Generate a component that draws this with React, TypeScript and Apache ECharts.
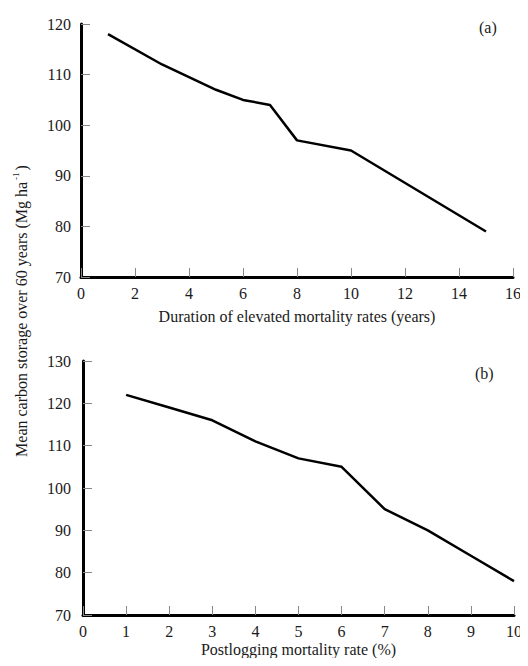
import React, { useEffect, useRef } from "react";
import * as echarts from "echarts";

// Panel (a): duration of elevated mortality rates (years) vs mean carbon storage
const durationYears = [1, 3, 5, 6, 7, 8, 10, 15];
const storageByDuration = [118, 112, 107, 105, 104, 97, 95, 79];

// Panel (b): postlogging mortality rate (%) vs mean carbon storage
const mortalityRate = [1, 2, 3, 4, 5, 6, 7, 8, 9, 10];
const storageByRate = [122, 119, 116, 111, 107, 105, 95, 90, 84, 78];

const FONT = "Liberation Serif";
const TEXT = "#1a1a1a";

export default function App() {
  const ref = useRef<HTMLDivElement>(null);

  useEffect(() => {
    if (!ref.current) return;
    const chart = echarts.init(ref.current, undefined, { renderer: "svg" });

    const axisLine = { lineStyle: { color: "#000", width: 3 } };
    const axisTick = { inside: true, length: 9, lineStyle: { color: "#888", width: 1 } };
    const axisLabel = { color: TEXT, fontFamily: FONT, fontSize: 16 };
    const nameTextStyle = { color: TEXT, fontFamily: FONT, fontSize: 16 };

    chart.setOption({
      animation: false,
      backgroundColor: "#fff",
      grid: [
        { left: 81, right: 15, top: 24, height: 253 },
        { left: 83, right: 14, top: 361, height: 254 },
      ],
      xAxis: [
        {
          gridIndex: 0,
          type: "value",
          min: 0,
          max: 16,
          interval: 2,
          splitLine: { show: false },
          axisLine,
          axisTick,
          axisLabel: { ...axisLabel, margin: 8 },
          name: "Duration of elevated mortality rates (years)",
          nameLocation: "middle",
          nameGap: 31,
          nameTextStyle,
        },
        {
          gridIndex: 1,
          type: "value",
          min: 0,
          max: 10,
          interval: 1,
          splitLine: { show: false },
          axisLine,
          axisTick,
          axisLabel: { ...axisLabel, margin: 8 },
          name: "Postlogging mortality rate (%)",
          nameLocation: "middle",
          nameGap: 26,
          nameTextStyle,
        },
      ],
      yAxis: [
        {
          gridIndex: 0,
          type: "value",
          min: 70,
          max: 120,
          interval: 10,
          splitLine: { show: false },
          axisLine,
          axisTick,
          axisLabel: { ...axisLabel, margin: 10 },
        },
        {
          gridIndex: 1,
          type: "value",
          min: 70,
          max: 130,
          interval: 10,
          splitLine: { show: false },
          axisLine,
          axisTick,
          axisLabel: { ...axisLabel, margin: 12 },
        },
      ],
      series: [
        {
          type: "line",
          xAxisIndex: 0,
          yAxisIndex: 0,
          data: durationYears.map((x, i) => [x, storageByDuration[i]]),
          showSymbol: false,
          lineStyle: { color: "#000", width: 2.5 },
        },
        {
          type: "line",
          xAxisIndex: 1,
          yAxisIndex: 1,
          data: mortalityRate.map((x, i) => [x, storageByRate[i]]),
          showSymbol: false,
          lineStyle: { color: "#000", width: 2.5 },
        },
      ],
      graphic: [
        {
          type: "text",
          left: 479,
          top: 19,
          style: { text: "(a)", fill: TEXT, font: `16px ${FONT}` },
        },
        {
          type: "text",
          left: 475,
          top: 365,
          style: { text: "(b)", fill: TEXT, font: `16px ${FONT}` },
        },
        {
          type: "text",
          x: 20,
          y: 311,
          rotation: Math.PI / 2,
          style: {
            text: "{m|Mean carbon storage over 60 years (Mg ha}{s|-1}{m|)}",
            align: "center",
            verticalAlign: "middle",
            fill: TEXT,
            rich: {
              m: { fontFamily: FONT, fontSize: 16, fill: TEXT, lineHeight: 18, verticalAlign: "bottom" },
              s: { fontFamily: FONT, fontSize: 9, fill: TEXT, lineHeight: 18, verticalAlign: "top", padding: [0, 2, 0, 2] },
            },
          },
        },
      ],
    });

    return () => chart.dispose();
  }, []);

  return <div ref={ref} style={{ width: 528, height: 666, margin: -8 }} />;
}
